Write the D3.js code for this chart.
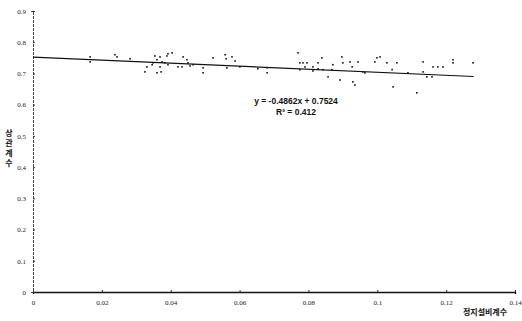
<!DOCTYPE html>
<html>
<head>
<meta charset="utf-8">
<script src="https://cdn.jsdelivr.net/npm/d3@7"></script>
<style>
  body { margin: 0; background: #fff; }
  svg { display: block; }
  .tick text { font-family: "Liberation Serif", "DejaVu Serif", serif; font-size: 7px; fill: #222; }
</style>
</head>
<body>
<div id="chart"></div>
<script>
// scatter: x = static coefficient, y = correlation coefficient
const xVals = [0.0166, 0.0166, 0.0238, 0.0244, 0.0282, 0.0325, 0.0331, 0.0346, 0.0349, 0.0354,
  0.0360, 0.0360, 0.0369, 0.0369, 0.0372, 0.0375, 0.0383, 0.0389, 0.0392, 0.0392,
  0.0404, 0.0421, 0.0433, 0.0436, 0.0447, 0.0450, 0.0456, 0.0465, 0.0494, 0.0494,
  0.0523, 0.0558, 0.0561, 0.0563, 0.0578, 0.0587, 0.0601, 0.0653, 0.0680, 0.0680,
  0.0770, 0.0775, 0.0775, 0.0784, 0.0790, 0.0796, 0.0813, 0.0813, 0.0828, 0.0828,
  0.0839, 0.0842, 0.0857, 0.0868, 0.0871, 0.0892, 0.0897, 0.0900, 0.0921, 0.0927,
  0.0929, 0.0935, 0.0944, 0.0958, 0.0964, 0.0993, 0.0999, 0.1008, 0.1028, 0.1043,
  0.1046, 0.1057, 0.1089, 0.1115, 0.1133, 0.1133, 0.1144, 0.1159, 0.1162, 0.1176,
  0.1191, 0.1220, 0.1220, 0.1278];
const yVals = [0.753, 0.737, 0.760, 0.753, 0.747, 0.705, 0.721, 0.728, 0.734, 0.756,
  0.744, 0.702, 0.753, 0.721, 0.705, 0.737, 0.734, 0.756, 0.763, 0.728,
  0.766, 0.721, 0.721, 0.753, 0.744, 0.734, 0.724, 0.728, 0.718, 0.702,
  0.750, 0.760, 0.747, 0.718, 0.753, 0.740, 0.721, 0.715, 0.718, 0.702,
  0.766, 0.734, 0.712, 0.734, 0.721, 0.734, 0.708, 0.721, 0.715, 0.734,
  0.750, 0.712, 0.689, 0.712, 0.728, 0.679, 0.753, 0.734, 0.737, 0.721,
  0.673, 0.663, 0.737, 0.705, 0.702, 0.737, 0.750, 0.753, 0.734, 0.712,
  0.657, 0.734, 0.702, 0.638, 0.737, 0.705, 0.689, 0.689, 0.721, 0.721,
  0.721, 0.744, 0.734, 0.734];

// trend line
const slope = -0.4862;
const intercept = 0.7524;
const trendRange = [0, 0.128];
const eqLines = ["y = -0.4862x + 0.7524", "R\u00b2 = 0.412"];

const xTicks = [0, 0.02, 0.04, 0.06, 0.08, 0.1, 0.12, 0.14];
const xTickLabels = ["0", "0.02", "0.04", "0.06", "0.08", "0.1", "0.12", "0.14"];
const yTicks = [0, 0.1, 0.2, 0.3, 0.4, 0.5, 0.6, 0.7, 0.8, 0.9];
const yTickLabels = ["0", "0.1", "0.2", "0.3", "0.4", "0.5", "0.6", "0.7", "0.8", "0.9"];
const xTitle = "정지설비계수";
const yTitle = "상관계수";

const width = 522, height = 321;
const margin = { top: 11, right: 7, bottom: 29, left: 33 };

const svg = d3.select("#chart").append("svg")
  .attr("width", width)
  .attr("height", height);

const x = d3.scaleLinear().domain([0, 0.14]).range([margin.left, width - margin.right]);
const y = d3.scaleLinear().domain([0, 0.9]).range([height - margin.bottom, margin.top]);

// axes
const xAxis = svg.append("g")
  .attr("transform", `translate(0,${height - margin.bottom})`)
  .call(d3.axisBottom(x).tickValues(xTicks).tickSize(2).tickPadding(6)
    .tickFormat((d, i) => xTickLabels[i]));
xAxis.select(".domain").attr("stroke", "#111").attr("stroke-width", 1.3);
xAxis.selectAll(".tick line").attr("stroke", "#333").attr("y2", -2);

const yAxis = svg.append("g")
  .attr("transform", `translate(${margin.left},0)`)
  .call(d3.axisLeft(y).tickValues(yTicks).tickSize(2).tickPadding(5)
    .tickFormat((d, i) => yTickLabels[i]));
yAxis.select(".domain").attr("stroke", "#444").attr("stroke-width", 1).attr("stroke-dasharray", "3,1");
yAxis.selectAll(".tick line").attr("stroke", "#333").attr("x2", 2);

// trend line
svg.append("line")
  .attr("x1", x(trendRange[0]))
  .attr("y1", y(intercept + slope * trendRange[0]))
  .attr("x2", x(trendRange[1]))
  .attr("y2", y(intercept + slope * trendRange[1]))
  .attr("stroke", "#111")
  .attr("stroke-width", 1.2);

// points
svg.append("g")
  .selectAll("rect")
  .data(xVals.map((v, i) => [v, yVals[i]]))
  .join("rect")
  .attr("x", d => x(d[0]) - 0.8)
  .attr("y", d => y(d[1]) - 0.8)
  .attr("width", 1.6)
  .attr("height", 1.6)
  .attr("fill", "#111");

// equation
svg.append("g")
  .selectAll("text")
  .data(eqLines)
  .join("text")
  .attr("x", 296)
  .attr("y", (d, i) => 104 + i * 11)
  .attr("text-anchor", "middle")
  .style("font-family", "Liberation Sans, Arial, sans-serif")
  .style("font-size", "8.5px")
  .style("font-weight", "bold")
  .attr("fill", "#111")
  .text(d => d);

// axis titles
svg.append("text")
  .attr("x", 485)
  .attr("y", 315)
  .attr("text-anchor", "middle")
  .style("font-family", "Noto Sans CJK KR, sans-serif")
  .style("font-size", "8px")
  .style("font-weight", "bold")
  .attr("fill", "#111")
  .text(xTitle);

svg.append("g")
  .selectAll("text")
  .data(Array.from(yTitle))
  .join("text")
  .attr("x", 9)
  .attr("y", (d, i) => 136 + i * 10)
  .attr("text-anchor", "middle")
  .style("font-family", "Noto Sans CJK KR, sans-serif")
  .style("font-size", "8px")
  .style("font-weight", "bold")
  .attr("fill", "#111")
  .text(d => d);
</script>
</body>
</html>
